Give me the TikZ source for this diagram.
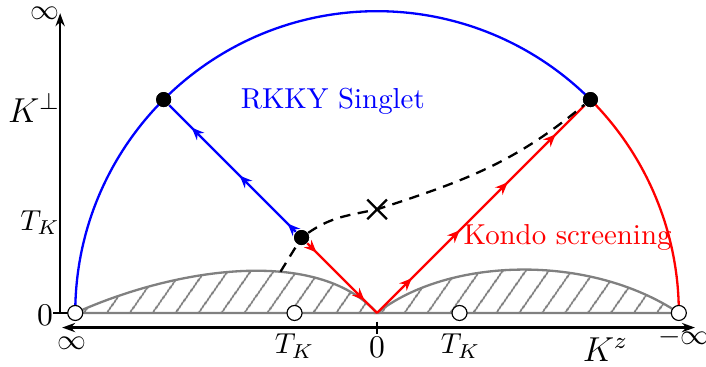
\documentclass[tikz,border=0pt]{standalone}
\usetikzlibrary{arrows.meta,decorations.markings,patterns.meta,shapes.misc}
\begin{document}
\begin{tikzpicture}[
        x=1.225cm, y=1.225cm,
        axis/.style={thick, black},
        axisarrow/.tip={Stealth[length=4.5pt,width=3.2pt]},
        fixpt/.style={circle, fill=black, inner sep=0pt, minimum size=5.2pt},
        openpt/.style={circle, draw=black, fill=white, inner sep=0pt, minimum size=5.2pt},
        hatched/.style={draw=gray, thick, pattern={Lines[angle=55, distance=6.5pt, line width=0.7pt]}, pattern color=gray},
        flow/.style={thick, postaction={decorate}, decoration={markings,
            mark=between positions #1 and 1 step 23.5pt with {\arrow{Stealth[length=4.3pt,width=3.6pt]}}}},
        zero/.style={font=\fontsize{11}{13}\selectfont},
      ]
        \useasboundingbox (-3.748,-0.537) rectangle (3.270,3.111);

        % End points and fixed points
        \coordinate (O) at (0,0);
        \coordinate (Lend) at (-3,0);
        \coordinate (Rend) at (3,0);
        \coordinate (bt) at (-0.96,0.41);

        % Hatched regions
        \draw[hatched] (Lend) .. controls (-2,0.45) and (-0.6,0.66) .. (O) -- cycle;
        \draw[hatched] (O) .. controls (0.7,0.55) and (2.1,0.6) .. (Rend) -- cycle;
        \draw[gray, thick] (Lend) -- (Rend);

        % Axes
        \coordinate (ybot) at (-3.15,0);
        \coordinate (ytop) at (-3.15,2.98);
        \coordinate (ytick) at (-3.22,0);
        \coordinate (xleft) at (-3.13,-0.145);
        \coordinate (xright) at (3.16,-0.145);
        \coordinate (ztop) at (0,-0.085);
        \coordinate (zbot) at (0,-0.205);
        \draw[axis, -axisarrow] (ybot) -- (ytop);
        \draw[axis] (ytick) -- (Lend);
        \draw[axis, axisarrow-axisarrow] (xleft) -- (xright);
        \draw[axis] (ztop) -- (zbot);

        % Points on the arc
        \node[fixpt] (dL) at (135:3) {};
        \node[fixpt] (dR) at (45:3) {};
        \node[fixpt] (fp) at (-0.75,0.75) {};
        \node[cross out, draw, thick, inner sep=0pt, minimum size=6pt] (X) at (0,1.03) {};

        % Arc
        \draw[blue, thick] (Lend) arc[start angle=180, end angle=45, radius=3];
        \draw[red, thick] (dR.center) arc[start angle=45, end angle=0, radius=3];

        % Flows
        \draw[flow=4pt, blue] (fp) -- (dL);
        \draw[flow=4.5pt, red] (fp) -- (O);
        \draw[flow=17pt, red] (O) -- (dR);

        % Separatrix
        \draw[thick, dash pattern=on 3.6pt off 2.6pt] (bt) -- (fp) to[out=35, in=192] (X.center) to[out=18, in=220] (dR);

        \node[fixpt] at (dL) {};
        \node[fixpt] at (dR) {};
        \node[fixpt] at (fp) {};

        % Open points on the axis
        \node[openpt] (oL) at (Lend) {};
        \node[openpt] (oA) at (-0.82,0) {};
        \node[openpt] (oB) at (0.82,0) {};
        \node[openpt] (oR) at (Rend) {};

        % Labels
        \node[inner sep=1pt] (inftop) at (-3.305,2.975) {$\infty$};
        \node[font=\large] (kperp) at (-3.41,2.04) {$K^\perp$};
        \node (tkl) at (-3.35,0.895) {$T_K$};
        \node[zero] (zl) at (-3.30,-0.02) {$0$};
        \node (infb) at (-3.03,-0.30) {$\infty$};
        \node (tka) at (-0.82,-0.33) {$T_K$};
        \node[zero] (zb) at (0,-0.34) {$0$};
        \node (tkb) at (0.83,-0.33) {$T_K$};
        \node[font=\large] (kz) at (2.27,-0.36) {$K^z$};
        \node (minf) at (3.05,-0.24) {$-\infty$};

        \node[blue] (rkky) at (-0.44,2.10) {RKKY Singlet};
        \node[red] (kondo) at (1.894,0.755) {Kondo screening};
      \end{tikzpicture}
\end{document}
